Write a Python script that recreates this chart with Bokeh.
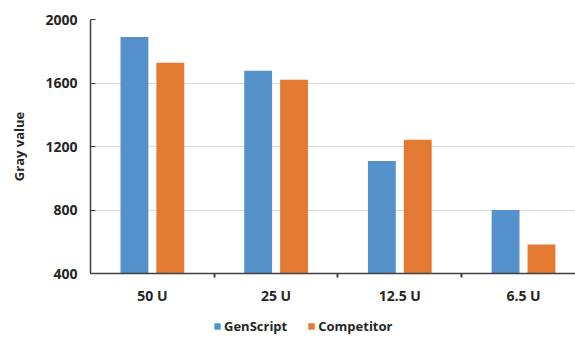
from bokeh.plotting import figure
from bokeh.layouts import column
from bokeh.models import Range1d, FixedTicker, Legend, LegendItem, ColumnDataSource
from bokeh.embed import file_html
from bokeh.resources import INLINE

categories = ["50 U", "25 U", "12.5 U", "6.5 U"]
genscript = [1890, 1677, 1108, 800]
competitor = [1727, 1620, 1242, 583]
y_ticks = [400, 800, 1200, 1600, 2000]
series_names = ["GenScript", "Competitor"]
colors = ["#5592CC", "#E47A31"]

centers = [i + 0.5 for i in range(len(categories))]
src = ColumnDataSource(dict(
    xg=[c - 0.145 for c in centers],
    xc=[c + 0.145 for c in centers],
    g=genscript, c=competitor,
))

FONT = "Open Sans"
TXT = "#262626"

p = figure(width=575, height=311, output_backend="svg", toolbar_location=None,
           x_range=Range1d(0, 3.92), y_range=Range1d(400, 2000),
           min_border_left=90, min_border_right=0, min_border_top=19,
           min_border_bottom=38)
p.outline_line_color = None

r1 = p.vbar(x="xg", top="g", bottom=400, width=0.225, source=src,
            fill_color=colors[0], line_color=None)
r2 = p.vbar(x="xc", top="c", bottom=400, width=0.225, source=src,
            fill_color=colors[1], line_color=None)

# x axis
p.xaxis.ticker = FixedTicker(ticks=centers, minor_ticks=[1, 2, 3])
p.xaxis.major_label_overrides = {c: lab for c, lab in zip(centers, categories)}
p.xaxis.major_tick_line_color = None
p.xaxis.major_tick_in = 0
p.xaxis.major_tick_out = 0
p.xaxis.minor_tick_in = 0
p.xaxis.minor_tick_out = 4
p.xaxis.minor_tick_line_color = "#404040"
p.xaxis.minor_tick_line_width = 2
p.xaxis.axis_line_color = "#404040"
p.xaxis.axis_line_width = 1.5
p.xaxis.major_label_standoff = 8
p.xaxis.major_label_text_font = FONT
p.xaxis.major_label_text_font_style = "bold"
p.xaxis.major_label_text_font_size = "14px"
p.xaxis.major_label_text_color = TXT

# y axis
p.yaxis.ticker = FixedTicker(ticks=y_ticks)
p.yaxis.minor_tick_line_color = None
p.yaxis.major_tick_in = 5
p.yaxis.major_tick_out = 0
p.yaxis.major_tick_line_color = "#404040"
p.yaxis.axis_line_color = "#404040"
p.yaxis.axis_line_width = 1.5
p.yaxis.major_label_standoff = 13
p.yaxis.major_label_text_font = FONT
p.yaxis.major_label_text_font_style = "bold"
p.yaxis.major_label_text_font_size = "14px"
p.yaxis.major_label_text_color = TXT
p.yaxis.axis_label = "Gray value"
p.yaxis.axis_label_text_font = FONT
p.yaxis.axis_label_text_font_style = "bold"
p.yaxis.axis_label_text_font_size = "13px"
p.yaxis.axis_label_text_color = TXT
p.yaxis.axis_label_standoff = 14

p.xgrid.grid_line_color = None
p.ygrid.grid_line_color = "#D9D9D9"
p.ygrid.grid_line_width = 1

# legend strip below the chart
p2 = figure(width=575, height=27, output_backend="svg", toolbar_location=None,
            x_axis_location=None, y_axis_location=None,
            min_border=0, x_range=Range1d(0, 1), y_range=Range1d(0, 1))
p2.outline_line_color = None
p2.grid.grid_line_color = None
l1 = p2.vbar(x="xg", top="g", bottom=400, width=0.225, source=src,
             fill_color=colors[0], line_color=None, visible=False)
l2 = p2.vbar(x="xc", top="c", bottom=400, width=0.225, source=src,
             fill_color=colors[1], line_color=None, visible=False)
legend = Legend(items=[LegendItem(label=series_names[0], renderers=[l1]),
                       LegendItem(label=series_names[1], renderers=[l2])],
                orientation="horizontal", location=(123, 3),
                border_line_color=None, background_fill_alpha=0,
                inactive_fill_alpha=0,
                label_text_font=FONT, label_text_font_style="bold",
                label_text_font_size="13px", label_text_color=TXT,
                glyph_width=8, glyph_height=8, spacing=20,
                label_standoff=3, padding=0, margin=0)
p2.add_layout(legend, "center")

open("out.html", "w").write(file_html(column(p, p2), INLINE))
